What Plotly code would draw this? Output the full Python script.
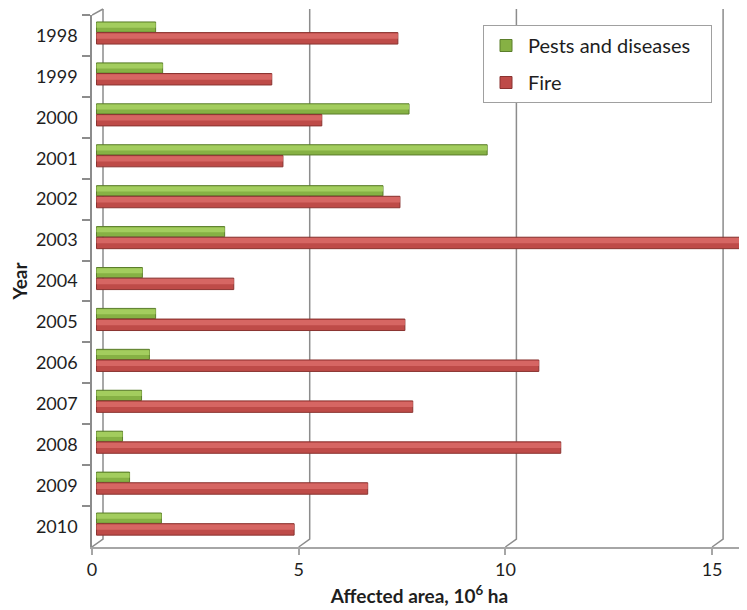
import plotly.graph_objects as go

years = ["1998", "1999", "2000", "2001", "2002", "2003", "2004",
         "2005", "2006", "2007", "2008", "2009", "2010"]
pests = [1.43, 1.60, 7.56, 9.45, 6.93, 3.10, 1.11, 1.43, 1.28, 1.09, 0.63, 0.80, 1.57]
fire = [7.29, 4.24, 5.45, 4.51, 7.34, 16.5, 3.32, 7.46, 10.70, 7.65, 11.23, 6.56, 4.78]
x_ticks = [0, 5, 10, 15]

FONT = "Lato, 'Open Sans', sans-serif"
PX_PER_UNIT = 41.34
PLOT_W = 655.0
PLOT_H = 532.0
BAR_SHIFT = 4.5 / PX_PER_UNIT     # bars sit slightly behind the front axis
BACK_SHIFT = 11.0 / PX_PER_UNIT   # back wall offset (x)
BACK_RISE = 8.0 / PLOT_H          # back wall offset (y, paper)

GREEN, GREEN_L, GREEN_D = "#86B144", "#A3CD5E", "#5B7E2B"
RED, RED_L, RED_D = "#BE4B48", "#D66663", "#8A3330"

fig = go.Figure()

# main bars
fig.add_trace(go.Bar(
    y=years, x=pests, orientation="h", name="Pests and diseases\u00a0\u00a0\u00a0",
    legendgroup="pests", xaxis="x2", yaxis="y",
    offset=-0.33, width=0.25,
    marker=dict(color=GREEN, line=dict(color=GREEN_D, width=1)),
))
fig.add_trace(go.Bar(
    y=years, x=pests, orientation="h", showlegend=False, hoverinfo="skip",
    legendgroup="pests", xaxis="x2", yaxis="y",
    offset=-0.31, width=0.12,
    marker=dict(color=GREEN_L, line=dict(width=0)),
))
fig.add_trace(go.Bar(
    y=years, x=fire, orientation="h", name="Fire",
    legendgroup="fire", xaxis="x2", yaxis="y",
    offset=-0.07, width=0.28,
    marker=dict(color=RED, line=dict(color=RED_D, width=1)),
))
fig.add_trace(go.Bar(
    y=years, x=fire, orientation="h", showlegend=False, hoverinfo="skip",
    legendgroup="fire", xaxis="x2", yaxis="y",
    offset=-0.05, width=0.13,
    marker=dict(color=RED_L, line=dict(width=0)),
))

# 3D-style back-wall gridlines and left wall
shapes = []
for v in x_ticks:
    path = (f"M {v},0 L {v + BACK_SHIFT},{BACK_RISE} "
            f"L {v + BACK_SHIFT},{1 + 6.0 / PLOT_H}")
    shapes.append(dict(type="path", xref="x", yref="paper", path=path,
                       line=dict(color="#8C8C8C", width=1.5), layer="below"))
shapes.append(dict(type="line", xref="x", yref="paper",
                   x0=0, y0=1, x1=BACK_SHIFT, y1=1 + 6.0 / PLOT_H,
                   line=dict(color="#8C8C8C", width=1.5), layer="below"))

fig.update_layout(
    width=739, height=602,
    margin=dict(l=84, r=0, t=7, b=63),
    paper_bgcolor="white", plot_bgcolor="white",
    font=dict(family=FONT, size=18, color="#1E1E1E"),
    barmode="overlay",
    showlegend=True,
    legend=dict(
        x=(483 - 92) / PLOT_W, y=(547 - 25) / PLOT_H,
        xanchor="left", yanchor="top",
        bordercolor="#A0A0A0", borderwidth=1, bgcolor="white",
        font=dict(family=FONT, size=20, color="#1E1E1E"),
        tracegroupgap=8, traceorder="grouped", itemwidth=34,
    ),
    xaxis=dict(
        range=[0, PLOT_W / PX_PER_UNIT],
        tickvals=x_ticks, ticktext=[str(t) for t in x_ticks],
        showgrid=False, zeroline=False,
        showline=True, linecolor="#A6A6A6", linewidth=1.5,
        ticks="outside", ticklen=6, tickcolor="#A6A6A6", tickwidth=1.5,
        tickfont=dict(family=FONT, size=18, color="#1E1E1E"),
        title=dict(text="<b>Affected area, 10<sup>6</sup> ha</b>",
                   font=dict(family=FONT, size=19, color="#1E1E1E"),
                   standoff=10),
        fixedrange=True,
    ),
    xaxis2=dict(
        overlaying="x", anchor="y",
        range=[-BAR_SHIFT, PLOT_W / PX_PER_UNIT - BAR_SHIFT],
        showgrid=False, zeroline=False, showline=False,
        showticklabels=False, ticks="",
        fixedrange=True,
    ),
    yaxis=dict(
        type="category", categoryorder="array", categoryarray=years,
        range=[12.5, -0.5],
        showgrid=False, zeroline=False,
        showline=True, linecolor="#8C8C8C", linewidth=1.5,
        ticks="outside", ticklen=8, tickcolor="#8C8C8C", tickwidth=1.5,
        tickson="boundaries", ticklabelstandoff=9,
        tickfont=dict(family=FONT, size=18, color="#1E1E1E"),
        title=dict(text="<b>Year</b>",
                   font=dict(family=FONT, size=19, color="#1E1E1E"),
                   standoff=12),
        fixedrange=True,
    ),
    shapes=shapes,
)

fig.write_html("out.html")
